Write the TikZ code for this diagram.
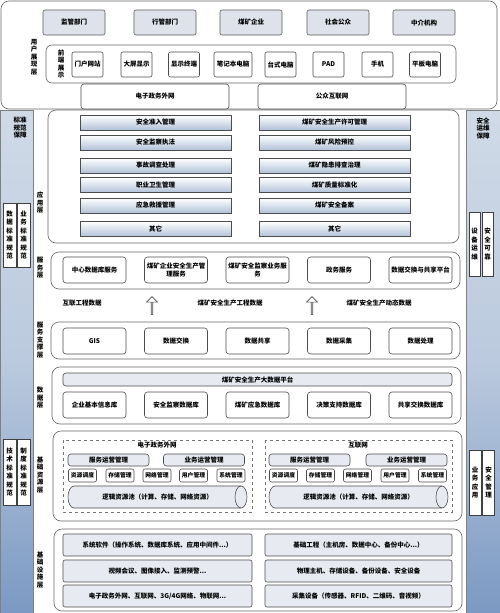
\documentclass[tikz,border=0pt]{standalone}
\usepackage{fontspec}
\setmainfont{Noto Sans CJK SC}
\usetikzlibrary{shapes.arrows}

\definecolor{barlight}{HTML}{D0DAE7}
\definecolor{bardark}{HTML}{7B99C3}
\definecolor{boxfill}{HTML}{DEE3EB}
\definecolor{appbot}{HTML}{B2C2D8}
\definecolor{lightfill}{HTML}{E7EBF1}

\begin{document}
\begin{tikzpicture}[x=1pt, y=-1pt, line width=0.6pt,
    every node/.style={font=\fontsize{6.5}{7.5}\selectfont\bfseries, inner sep=1pt},
    layer/.style={draw=black!60, fill=white, rounded corners=8pt},
    toprow/.style={draw=black!65, fill=boxfill, rounded corners=2pt, minimum width=62, minimum height=25},
    wbox/.style={draw=black!70, fill=white, rounded corners=2pt},
    dev/.style={wbox, minimum width=31, minimum height=25},
    netbox/.style={wbox, rounded corners=3pt, minimum width=148, minimum height=25},
    appbox/.style={draw=black!70, top color=white, bottom color=appbot, minimum width=151, minimum height=15},
    svc/.style={wbox, rounded corners=3pt, minimum width=63, minimum height=26, align=center},
    mng/.style={draw=black!70, fill=lightfill, rounded corners=3pt, minimum width=81, minimum height=12},
    tool/.style={wbox, minimum width=28, minimum height=13, font=\fontsize{5.8}{6.5}\selectfont\bfseries},
    infra/.style={draw=black!70, fill=lightfill, rounded corners=2pt, minimum height=22},
    grp/.style={draw=black!55, dashed},
    vlabel/.style={align=center, font=\fontsize{6.5}{7.5}\selectfont\bfseries},
    sidebox/.style={draw=black!75, fill=white, align=center, inner sep=0pt, font=\fontsize{6.5}{8.5}\selectfont\bfseries},
    hollow/.style={single arrow, draw=black!70, fill=white, shape border rotate=90,
        minimum height=18, minimum width=11, single arrow head extend=2pt, inner sep=0pt}
]
    \useasboundingbox (0,0) rectangle (500,613);

    % Side bars
    \draw[black!50, top color=barlight, bottom color=bardark, middle color=barlight!75!bardark] (0,110) rectangle (33,613);
    \draw[black!50, top color=barlight, bottom color=bardark, middle color=barlight!75!bardark] (466,110) rectangle (500,613);
    \node[vlabel] (bzgf) at (20,128) {标准\\规范\\保障};
    \node[vlabel] (aqyw) at (483,128) {安全\\运维\\保障};

    \node[sidebox, minimum width=13, minimum height=64] (sjbz) at (9.5,235) {数\\据\\标\\准\\规\\范};
    \node[sidebox, minimum width=13, minimum height=64] (ywbz) at (23.5,235) {业\\务\\标\\准\\规\\范};
    \node[sidebox, minimum width=13, minimum height=66] (jsbz) at (9.5,472) {技\\术\\标\\准\\规\\范};
    \node[sidebox, minimum width=13, minimum height=66] (zdbz) at (23.5,472) {制\\度\\标\\准\\规\\范};

    \node[sidebox, minimum width=11, minimum height=64] (sbyw) at (474.5,244) {设\\备\\运\\维};
    \node[sidebox, minimum width=11, minimum height=64] (aqkk) at (487.5,244) {安\\全\\可\\靠};
    \node[sidebox, minimum width=12, minimum height=65] (ywyy) at (475,482.5) {业\\务\\应\\用};
    \node[sidebox, minimum width=12, minimum height=65] (aqgl) at (488.5,482.5) {安\\全\\管\\理};

    % User layer
    \draw[layer] (1,1) rectangle (497,109);
    \node[toprow] (jg) at (74,22.5) {监管部门};
    \node[toprow] (hg) at (165,22.5) {行管部门};
    \node[toprow] (mk) at (251,22.5) {煤矿企业};
    \node[toprow] (sh) at (338,22.5) {社会公众};
    \node[toprow] (zj) at (424,22.5) {中介机构};
    \node[vlabel] (yhc) at (34,57) {用\\户\\展\\现\\层};

    \draw[layer, rounded corners=6pt] (46,45) rectangle (456,83);
    \node[vlabel] (qdzs) at (61,64) {前\\端\\展\\示};
    \node[dev] (mh) at (87.5,64.5) {门户网站};
    \node[dev] (dp) at (136.5,64.5) {大屏显示};
    \node[dev] (xs) at (184,64.5) {显示终端};
    \node[dev, minimum width=38] (bj) at (233,64.5) {笔记本电脑};
    \node[dev] (ts) at (280.5,64.5) {台式电脑};
    \node[dev] (pad) at (328.5,64.5) {PAD};
    \node[dev] (sj) at (377.5,64.5) {手机};
    \node[dev] (pb) at (425,64.5) {平板电脑};

    \node[netbox] (zwww) at (155,96.5) {电子政务外网};
    \node[netbox] (gzhl) at (332,96.5) {公众互联网};

    % Application layer
    \draw[layer] (48,110) rectangle (459,243);
    \node[vlabel] (yyc) at (40,203) {应\\用\\层};
    \node[appbox] (a1) at (155.5,122.5) {安全准入管理};
    \node[appbox] (a2) at (155.5,142.5) {安全监察执法};
    \node[appbox] (a3) at (155.5,165.5) {事故调查处理};
    \node[appbox] (a4) at (155.5,185) {职业卫生管理};
    \node[appbox] (a5) at (155.5,205.5) {应急救援管理};
    \node[appbox] (a6) at (155.5,229) {其它};
    \node[appbox] (b1) at (334.5,122.5) {煤矿安全生产许可管理};
    \node[appbox] (b2) at (334.5,142.5) {煤矿风险预控};
    \node[appbox] (b3) at (334.5,165.5) {煤矿隐患排查治理};
    \node[appbox] (b4) at (334.5,185) {煤矿质量标准化};
    \node[appbox] (b5) at (334.5,205.5) {煤矿安全备案};
    \node[appbox] (b6) at (334.5,229) {其它};

    % Service layer
    \draw[layer] (51,252) rectangle (460,289);
    \node[vlabel] (fwc) at (40,268) {服\\务\\层};
    \node[svc] (s1) at (94.5,270) {中心数据库服务};
    \node[svc] (s2) at (176,270) {煤矿企业安全生产管\\理服务};
    \node[svc] (s3) at (257.5,270) {煤矿安全监察业务服\\务};
    \node[svc] (s4) at (339,270) {政务服务};
    \node[svc] (s5) at (420.5,270) {数据交换与共享平台};

    % Data flow
    \node (d1) at (82,303) {互联工程数据};
    \node (d2) at (230,303) {煤矿安全生产工程数据};
    \node (d3) at (379,303) {煤矿安全生产动态数据};
    \node[hollow] (up1) at (152,306) {};
    \node[hollow] (up2) at (312,306) {};

    % Service support layer
    \draw[layer] (51,322) rectangle (460,359);
    \node[vlabel] (zcc) at (40,340) {服\\务\\支\\撑\\层};
    \node[svc] (t1) at (94.5,341) {GIS};
    \node[svc] (t2) at (176,341) {数据交换};
    \node[svc] (t3) at (257.5,341) {数据共享};
    \node[svc] (t4) at (339,341) {数据采集};
    \node[svc] (t5) at (420.5,341) {数据处理};

    % Data layer
    \draw[layer] (52,367) rectangle (461,424);
    \node[vlabel] (sjc) at (40,398) {数\\据\\层};
    \node[draw=black!70, fill=lightfill, rounded corners=3pt, minimum width=389, minimum height=13] (dsj) at (257.5,379.5) {煤矿安全生产大数据平台};
    \node[svc] (k1) at (94.5,405) {企业基本信息库};
    \node[svc] (k2) at (176,405) {安全监察数据库};
    \node[svc] (k3) at (257.5,405) {煤矿应急数据库};
    \node[svc] (k4) at (339,405) {决策支持数据库};
    \node[svc] (k5) at (420.5,405) {共享交换数据库};

    % Resource layer
    \draw[layer] (53,431) rectangle (462,521);
    \node[vlabel] (zyc) at (40,475) {基\\础\\资\\源\\层};
    \draw[grp] (63,440) rectangle (252,512);
    \draw[grp] (265,440) rectangle (452,512);
    \node (gw) at (157,445.5) {电子政务外网};
    \node (hw) at (358,445.5) {互联网};

    \node[mng] (m1) at (108.5,460) {服务运营管理};
    \node[mng] (m2) at (204,460) {业务运营管理};
    \node[mng] (m3) at (309.5,460) {服务运营管理};
    \node[mng] (m4) at (406.5,460) {业务运营管理};

    \node[tool] (r1) at (82.5,475.5) {资源调度};
    \node[tool] (r2) at (120,475.5) {存储管理};
    \node[tool] (r3) at (157,475.5) {网络管理};
    \node[tool] (r4) at (193.5,475.5) {用户管理};
    \node[tool] (r5) at (231,475.5) {系统管理};
    \node[tool] (q1) at (283.5,475.5) {资源调度};
    \node[tool] (q2) at (320.5,475.5) {存储管理};
    \node[tool] (q3) at (357.5,475.5) {网络管理};
    \node[tool] (q4) at (395,475.5) {用户管理};
    \node[tool] (q5) at (432.5,475.5) {系统管理};

    % Resource pools
    \draw[black!70, fill=lightfill] (74,486) -- (241,486) arc[start angle=90, end angle=-90, x radius=6pt, y radius=11pt]
        -- (74,508) arc[start angle=270, end angle=90, x radius=6pt, y radius=11pt] -- cycle;
    \draw[black!70] (241,486) arc[start angle=90, end angle=270, x radius=6pt, y radius=11pt];
    \node (pool1) at (157.5,497) {逻辑资源池（计算、存储、网络资源）};
    \draw[black!70, fill=lightfill] (275,486) -- (442,486) arc[start angle=90, end angle=-90, x radius=6pt, y radius=11pt]
        -- (275,508) arc[start angle=270, end angle=90, x radius=6pt, y radius=11pt] -- cycle;
    \draw[black!70] (442,486) arc[start angle=90, end angle=270, x radius=6pt, y radius=11pt];
    \node (pool2) at (358.5,497) {逻辑资源池（计算、存储、网络资源）};

    % Infrastructure layer
    \draw[layer] (54,529) rectangle (462,611);
    \node[vlabel] (jcss) at (40,570) {基\\础\\设\\施\\层};
    \node[infra, minimum width=189] (i1) at (157.5,545) {系统软件（操作系统、数据库系统、应用中间件...）};
    \node[infra, minimum width=189] (i2) at (157.5,571) {视频会议、图像接入、监测预警...};
    \node[infra, minimum width=189] (i3) at (157.5,596) {电子政务外网、互联网、3G/4G网络、物联网...};
    \node[infra, minimum width=187] (j1) at (358.5,545) {基础工程（主机房、数据中心、备份中心...）};
    \node[infra, minimum width=187] (j2) at (358.5,571) {物理主机、存储设备、备份设备、安全设备};
    \node[infra, minimum width=187] (j3) at (358.5,596) {采集设备（传感器、RFID、二维码、音视频）};
\end{tikzpicture}
\end{document}
